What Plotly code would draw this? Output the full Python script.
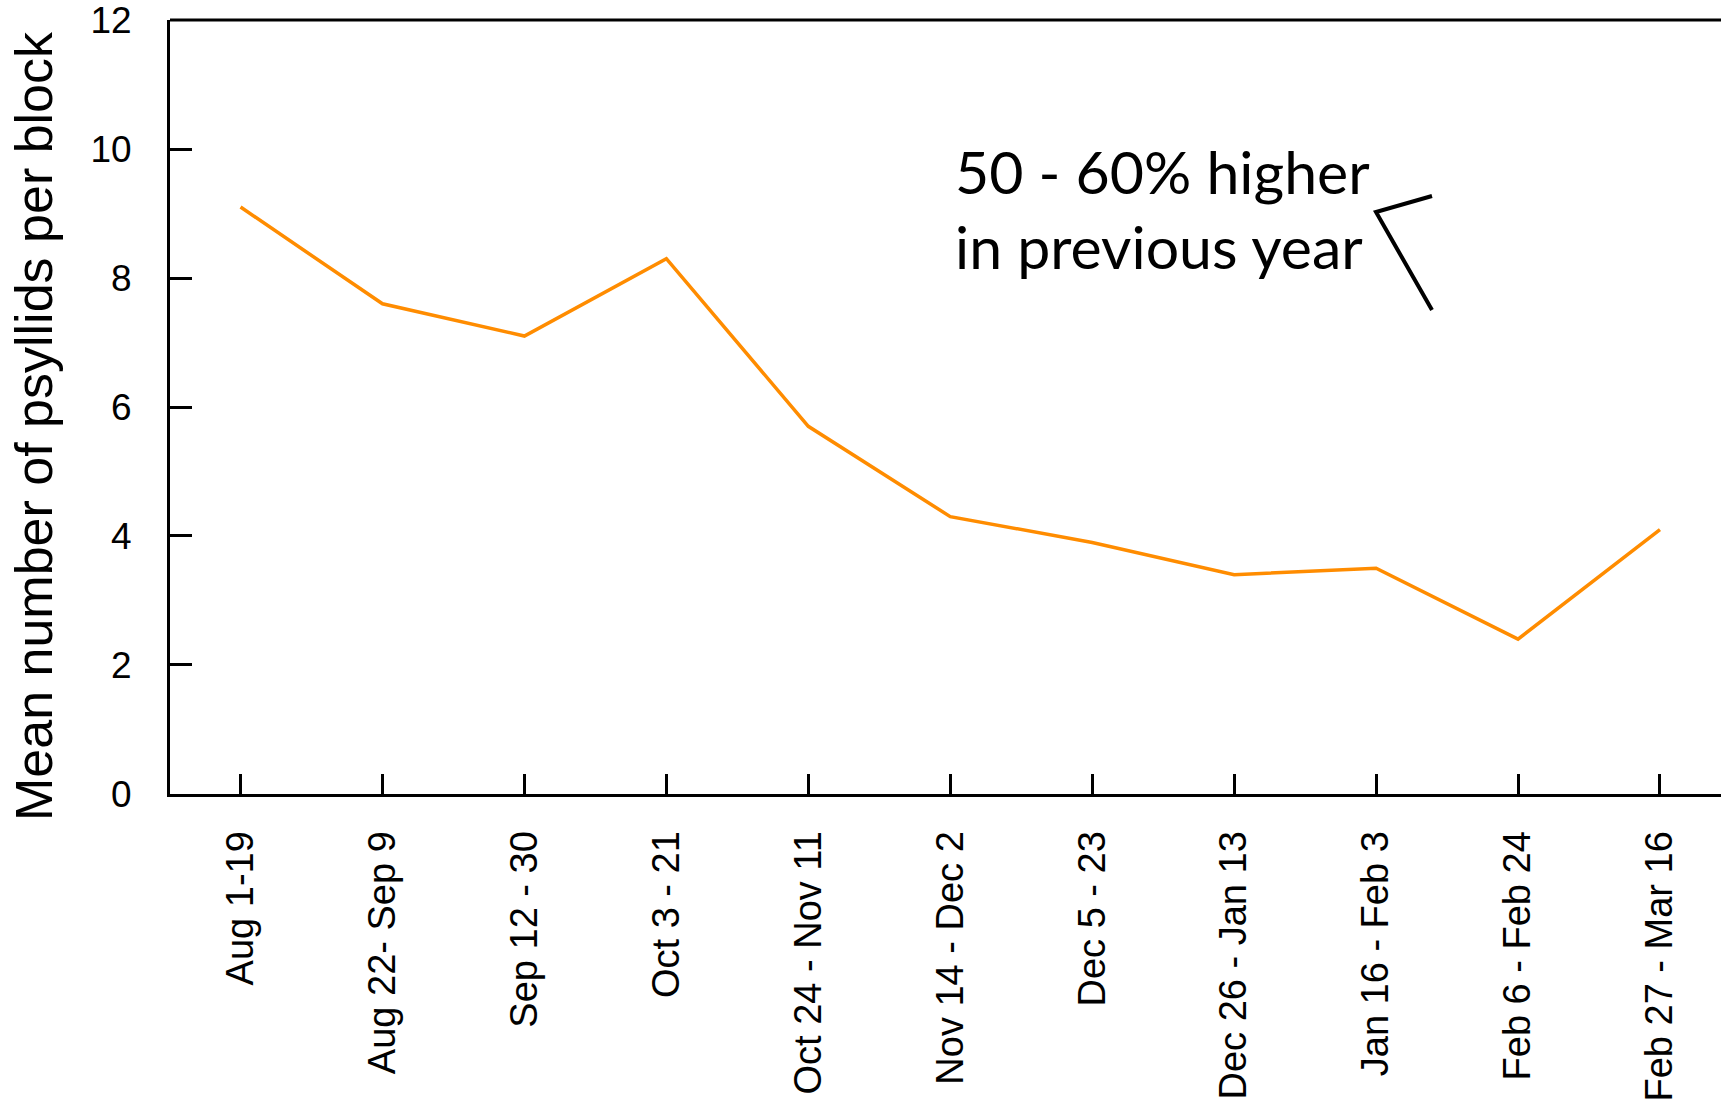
import plotly.graph_objects as go

categories = ["Aug 1-19", "Aug 22- Sep 9", "Sep 12 - 30", "Oct 3 - 21", "Oct 24 - Nov 11",
              "Nov 14 - Dec 2", "Dec 5 - 23", "Dec 26 - Jan 13", "Jan 16 - Feb 3",
              "Feb 6 - Feb 24", "Feb 27 - Mar 16"]
mean_psyllids = [9.1, 7.6, 7.1, 8.3, 5.7, 4.3, 3.9, 3.4, 3.5, 2.4, 4.1]
y_ticks = [0, 2, 4, 6, 8, 10, 12]

W, H = 1721, 1106
L, R, T, B = 170, 0, 20, 312
PW, PH = W - L - R, H - T - B


def px(x):
    return (x - L) / PW


def py(y):
    return (H - B - y) / PH


xpos = list(range(len(categories)))

fig = go.Figure()
fig.add_trace(go.Scatter(
    x=xpos, y=mean_psyllids, mode="lines",
    line=dict(color="#FF8C00", width=3.5),
    showlegend=False, hoverinfo="skip",
))

fig.update_layout(
    width=W, height=H,
    margin=dict(l=L, r=R, t=T, b=B, pad=0, autoexpand=False),
    paper_bgcolor="white", plot_bgcolor="white",
    font=dict(family="Liberation Sans, Arial, sans-serif", color="black"),
    xaxis=dict(
        range=[-0.497, 10.43],
        tickmode="array", tickvals=xpos, ticktext=categories,
        tickangle=-90, ticks="inside", ticklen=20, tickwidth=3, tickcolor="black",
        showline=True, linecolor="black", linewidth=3,
        showgrid=False, zeroline=False,
        tickfont=dict(size=38, family="Liberation Sans, Arial, sans-serif"),
        ticklabelstandoff=19,
    ),
    yaxis=dict(
        range=[-0.0005, 12.0005],
        tickmode="array", tickvals=y_ticks, ticktext=[str(v) for v in y_ticks],
        ticks="inside", ticklen=22, tickwidth=3, tickcolor="black",
        showline=True, linecolor="black", linewidth=3,
        showgrid=False, zeroline=False,
        tickfont=dict(size=37, family="Liberation Sans, Arial, sans-serif"),
        ticklabelstandoff=28, ticklabeloverflow="allow",
    ),
)

# top frame line
fig.add_shape(type="line", xref="paper", yref="paper", x0=0, x1=1, y0=1, y1=1,
              line=dict(color="black", width=3))

# y-axis title
fig.add_annotation(
    text="Mean number of psyllids per block",
    xref="paper", yref="paper", x=px(34), y=py(426),
    xanchor="center", yanchor="middle", textangle=-90, showarrow=False,
    font=dict(size=52, family="Liberation Sans, Arial, sans-serif", color="black"),
)

# callout text
fig.add_annotation(
    text="50 - 60% higher", xref="paper", yref="paper", x=px(953), y=py(171),
    xanchor="left", yanchor="middle", showarrow=False,
    font=dict(size=59, family="Lato, sans-serif", color="black"),
)
fig.add_annotation(
    text="in previous year", xref="paper", yref="paper", x=px(953), y=py(246),
    xanchor="left", yanchor="middle", showarrow=False,
    font=dict(size=59, family="Lato, sans-serif", color="black"),
)

# bracket lines
fig.add_shape(type="path", xref="paper", yref="paper",
              path=f"M {px(1432)} {py(196)} L {px(1376)} {py(212)} L {px(1432)} {py(310)}",
              line=dict(color="black", width=4))

fig.write_html("out.html",
               config={"displayModeBar": False},
               post_script="document.body.style.margin='0';document.body.style.overflow='hidden';")
